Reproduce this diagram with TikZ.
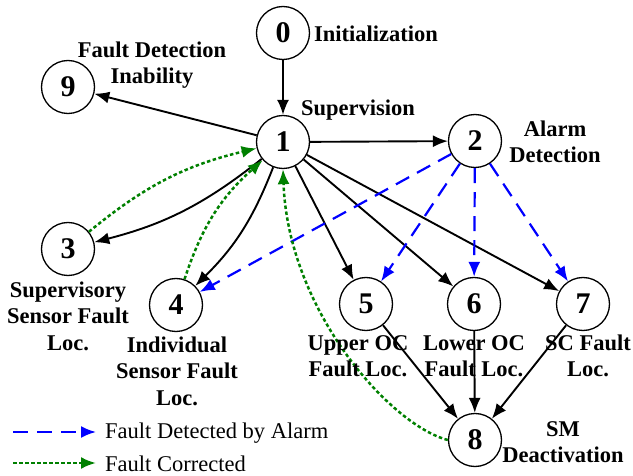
\documentclass[tikz,border=0pt]{standalone}
\usepackage{fontspec}
\setmainfont{Liberation Serif}
\usetikzlibrary{arrows.meta}
\definecolor{fgreen}{RGB}{0,128,0}
\begin{document}
\begin{tikzpicture}[x=1pt,y=-1pt,
  state/.style={circle,draw,line width=1.3pt,minimum size=53pt,inner sep=0pt,
    font=\bfseries\fontsize{30}{30}\selectfont},
  lbl/.style={align=center,inner sep=0pt,font=\bfseries\fontsize{22.5}{26.5}\selectfont},
  leg/.style={anchor=west,inner sep=0pt,font=\fontsize{22.5}{26}\selectfont},
  tip/.style={-{Latex[length=15pt,width=12pt]}},
  blk/.style={tip,line width=1.9pt,black},
  blu/.style={tip,line width=2.2pt,blue,dash pattern=on 15pt off 9pt},
  grn/.style={tip,line width=2.5pt,fgreen,dash pattern=on 3.5pt off 2.5pt}]
\useasboundingbox (0,0) rectangle (633,476);
% states
\node[state] (n0) at (283,33) {0};
\node[state] (n1) at (283,142) {1};
\node[state] (n2) at (475,141) {2};
\node[state] (n9) at (68,87) {9};
\node[state] (n3) at (68,249) {3};
\node[state] (n4) at (176,305) {4};
\node[state] (n5) at (366,304) {5};
\node[state] (n6) at (474,304) {6};
\node[state] (n7) at (583,304) {7};
\node[state] (n8) at (475,440) {8};
% black transitions
\draw[blk] (n0) -- (n1);
\draw[blk] (n1) -- (n9);
\draw[blk] (n1) -- (n2);
\draw[blk] (n1) to[bend left=12] (n3);
\draw[blk] (n1) to[bend left=12] (n4);
\draw[blk] (n1) -- (n5);
\draw[blk] (n1) -- (n6);
\draw[blk] (n1) -- (n7);
\draw[blk] (n5) -- (n8);
\draw[blk] (n6) -- (n8);
\draw[blk] (n7) -- (n8);
% blue dashed
\draw[blu] (n2) -- (n4);
\draw[blu] (n2) -- (n5);
\draw[blu] (n2) -- (n6);
\draw[blu] (n2) -- (n7);
% green dotted
\draw[grn] (n3) to[bend left=13] (n1);
\draw[grn] (n4) to[bend left=15] (n1);
\draw[grn] (n8.west) .. controls (390,425) and (288,310) .. (n1.south);
% labels
\node[lbl] (l0) at (376,34) {Initialization};
\node[lbl] (l1) at (358,110) {Supervision};
\node[lbl] (l2) at (555,142) {Alarm\\Detection};
\node[lbl] (l9) at (152,65) {Fault Detection\\Inability};
\node[lbl] (l3) at (68,316) {Supervisory\\Sensor Fault\\Loc.};
\node[lbl] (l4) at (177,371) {Individual\\Sensor Fault\\Loc.};
\node[lbl] (l5) at (358,356) {Upper OC\\Fault Loc.};
\node[lbl] (l6) at (474,356) {Lower OC\\Fault Loc.};
\node[lbl] (l7) at (588,356) {SC Fault\\Loc.};
\node[lbl] (l8) at (563,442) {SM\\Deactivation};
% legend
\coordinate (a1) at (13,432);
\coordinate (a2) at (96,432);
\coordinate (b1) at (13,463);
\coordinate (b2) at (96,463);
\draw[blu] (a1) -- (a2);
\draw[grn] (b1) -- (b2);
\node[leg] (t1) at (105,433) {Fault Detected by Alarm};
\node[leg] (t2) at (105,464) {Fault Corrected};
\end{tikzpicture}
\end{document}
